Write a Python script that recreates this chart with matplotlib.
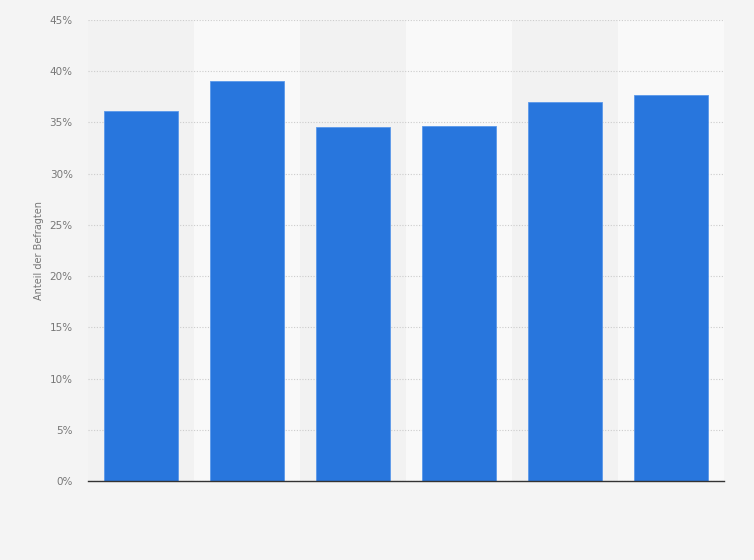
import matplotlib.pyplot as plt
from matplotlib.ticker import FuncFormatter

# Anteil der Befragten in Prozent, sechs Balken (keine Kategorienbeschriftung sichtbar)
positions = [0, 1, 2, 3, 4, 5]
values = [36.1, 39.0, 34.6, 34.7, 37.0, 37.7]
y_ticks = [0, 5, 10, 15, 20, 25, 30, 35, 40, 45]

fig = plt.figure(figsize=(7.54, 5.6), dpi=100)
fig.patch.set_facecolor("#f4f4f4")
ax = fig.add_axes([88 / 754, 79 / 560, 636 / 754, 461 / 560])
ax.set_facecolor("#f2f2f2")

# alternating column bands
for i in positions:
    if i % 2 == 1:
        ax.axvspan(i - 0.5, i + 0.5, color="#f9f9f9", zorder=0, lw=0)

ax.bar(positions, values, width=0.69, color="#2876dd", edgecolor="#5a98ea",
       linewidth=0.6, zorder=3)

ax.set_xlim(-0.5, 5.5)
ax.set_ylim(0, 45)
ax.set_yticks(y_ticks)
ax.yaxis.set_major_formatter(FuncFormatter(lambda v, p: f"{v:.0f}%"))
ax.set_xticks([])
ax.grid(axis="y", color="#cccccc", linestyle=(0, (1, 1.5)), linewidth=0.8, zorder=1)

for side in ["top", "right", "left"]:
    ax.spines[side].set_visible(False)
ax.spines["bottom"].set_color("#333333")
ax.spines["bottom"].set_linewidth(1.0)
ax.spines["bottom"].set_zorder(4)

ax.tick_params(axis="y", length=0, pad=11, labelsize=7.5, labelcolor="#777777")
ax.set_ylabel("Anteil der Befragten", fontsize=7, color="#777777", labelpad=4)

fig.savefig("out.png", dpi=100, facecolor=fig.get_facecolor())
